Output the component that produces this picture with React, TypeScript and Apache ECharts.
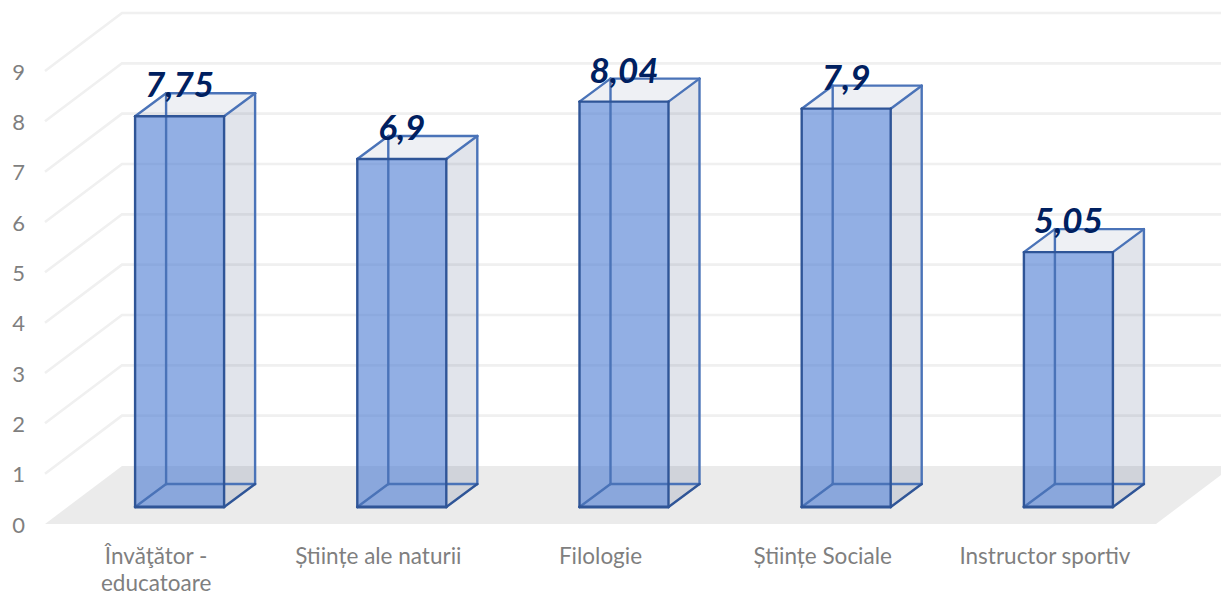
import React, { useEffect, useRef } from "react";
import * as echarts from "echarts";

const categories = ["Învăţător -\neducatoare", "Științe ale naturii", "Filologie", "Științe Sociale", "Instructor sportiv"];
const values = [7.75, 6.9, 8.04, 7.9, 5.05];
const wallTicks = [1, 2, 3, 4, 5, 6, 7, 8, 9];

const FONT = "Lato, Carlito, sans-serif";
const DEPTH_X = 77;
const DEPTH_Y = 58;
const BAR_DX = 31;
const BAR_DY = 23;
const BAR_LIFT = 17;
const BAR_SHIFT = 23.5;
const BAR_W = 89;
const EDGE = "#2f5597";
const INNER = "#4a73b8";

const poly = (points: number[][], style: any) => ({ type: "polygon", shape: { points }, style });
const line = (a: number[], b: number[], stroke: string, lineWidth = 2.4) => ({
  type: "line",
  shape: { x1: a[0], y1: a[1], x2: b[0], y2: b[1] },
  style: { stroke, lineWidth, lineCap: "round" },
});

function renderWall(p: any, api: any) {
  const y = api.coord([0, api.value(1)])[1];
  const left = p.coordSys.x;
  return {
    type: "polyline",
    silent: true,
    shape: { points: [[left, y], [left + DEPTH_X, y - DEPTH_Y], [1225, y - DEPTH_Y]] },
    style: { stroke: "#f0f0f0", lineWidth: 2.6, fill: "none" },
  };
}

function renderFloor(p: any) {
  const cs = p.coordSys;
  const b = cs.y + cs.height;
  return poly(
    [[cs.x, b], [cs.x + cs.width, b], [cs.x + cs.width + DEPTH_X, b - DEPTH_Y], [cs.x + DEPTH_X, b - DEPTH_Y]],
    { fill: "#ebebeb" }
  );
}

function renderBar(_p: any, api: any) {
  const i = api.value(0);
  const v = api.value(1);
  const top = api.coord([i, v]);
  const base = api.coord([i, 0]);
  const x0 = top[0] + BAR_SHIFT - BAR_W / 2;
  const x1 = x0 + BAR_W;
  const yT = top[1] - BAR_LIFT - 0.7;
  const yB = base[1] - BAR_LIFT;
  const d = (pt: number[]) => [pt[0] + BAR_DX, pt[1] - BAR_DY];
  return {
    type: "group",
    silent: true,
    children: [
      poly([[x1, yT], d([x1, yT]), d([x1, yB]), [x1, yB]], { fill: "rgba(68,84,130,0.16)" }),
      poly([[x0, yT], [x1, yT], d([x1, yT]), d([x0, yT])], { fill: "rgba(68,84,130,0.09)" }),
      poly([[x0, yB], [x1, yB], [x1, yT], [x0, yT]], { fill: "rgba(79,126,211,0.62)" }),
      line(d([x0, yB]), d([x0, yT]), INNER),
      line(d([x0, yB]), d([x1, yB]), INNER),
      line([x0, yB], d([x0, yB]), INNER),
      line(d([x0, yT]), d([x1, yT]), INNER),
      line([x0, yT], d([x0, yT]), INNER),
      line([x1, yT], d([x1, yT]), INNER),
      line(d([x1, yT]), d([x1, yB]), INNER),
      line([x1, yB], d([x1, yB]), EDGE),
      line([x0, yB], [x1, yB], EDGE, 2.8),
      line([x0, yB], [x0, yT], EDGE),
      line([x1, yB], [x1, yT], EDGE),
      line([x0, yT], [x1, yT], EDGE),
      {
        type: "text",
        x: (x0 + x1) / 2,
        y: yT - 33,
        style: {
          text: String(v).replace(".", ","),
          fill: "#002060",
          font: `italic bold 35px ${FONT}`,
          align: "center",
          verticalAlign: "middle",
        },
      },
    ],
  };
}

export default function App() {
  const ref = useRef<HTMLDivElement>(null);
  useEffect(() => {
    const chart = echarts.init(ref.current!, undefined, { renderer: "svg" });
    chart.setOption({
      animation: false,
      backgroundColor: "#ffffff",
      grid: { left: 45, right: 65, top: 71, bottom: 68, outerBoundsMode: "none", containLabel: false },
      xAxis: {
        type: "category",
        data: categories,
        axisLine: { show: false },
        axisTick: { show: false },
        axisLabel: { color: "#7f7f7f", fontFamily: FONT, fontSize: 22.5, margin: 18, lineHeight: 27, interval: 0, hideOverlap: false },
      },
      yAxis: {
        type: "value",
        min: 0,
        max: 9,
        interval: 1,
        axisLine: { show: false },
        axisTick: { show: false },
        splitLine: { show: false },
        axisLabel: { color: "#7f7f7f", fontFamily: FONT, fontSize: 22, margin: 20 },
      },
      series: [
        { type: "custom", renderItem: renderWall, data: wallTicks.map((t) => [0, t]), encode: { x: 0, y: 1 }, silent: true, z: 1 },
        { type: "custom", renderItem: renderFloor, data: [[0, 0]], encode: { x: 0, y: 1 }, silent: true, z: 2 },
        { type: "custom", renderItem: renderBar, data: values.map((v, i) => [i, v]), encode: { x: 0, y: 1 }, silent: true, z: 3 },
      ],
    });
    return () => chart.dispose();
  }, []);
  return <div ref={ref} style={{ position: "fixed", left: 0, top: 0, width: 1221, height: 592 }} />;
}
